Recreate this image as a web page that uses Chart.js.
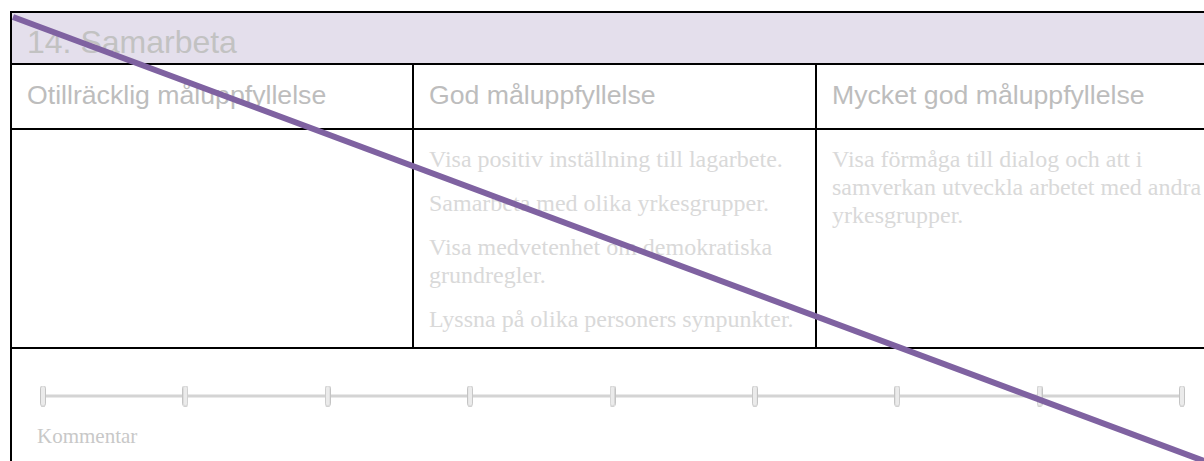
<!DOCTYPE html>
<html lang="sv">
<head>
<meta charset="utf-8">
<title>14. Samarbeta</title>
<script src="https://cdn.jsdelivr.net/npm/chart.js@4/dist/chart.umd.min.js"></script>
<style>
  html, body { margin: 0; padding: 0; width: 1204px; height: 461px; overflow: hidden; background: #fff; }
  .abs { position: absolute; }
  .line { position: absolute; background: #000; }
  .title { font: 32px/32px "Liberation Sans", Arial, sans-serif; color: #c2c2c2; white-space: nowrap; }
  .head { font: 26.67px/26.67px "Liberation Sans", Arial, sans-serif; color: #bdbdbd; white-space: nowrap; }
  .body { font: 24px/28px "Liberation Serif", "Times New Roman", serif; color: #d9d9d9; white-space: nowrap; }
  .body p { margin: 0 0 16px 0; }
  .note { font: 21px/21px "Liberation Serif", "Times New Roman", serif; color: #c8c8c8; white-space: nowrap; }
</style>
</head>
<body>
<!-- form frame -->
<div class="abs" style="left:12px;top:13px;width:1192px;height:50px;background:#e4dfec;"></div>
<div class="line" style="left:10px;top:11px;width:1194px;height:2px;"></div>
<div class="line" style="left:10px;top:11px;width:2px;height:450px;"></div>
<div class="line" style="left:10px;top:63px;width:1194px;height:2px;"></div>
<div class="line" style="left:10px;top:128px;width:1194px;height:2px;"></div>
<div class="line" style="left:10px;top:347px;width:1194px;height:2px;"></div>
<div class="line" style="left:412px;top:63px;width:2px;height:286px;"></div>
<div class="line" style="left:815px;top:63px;width:2px;height:286px;"></div>

<div class="abs title" style="left:27px;top:26px;">14. Samarbeta</div>
<div class="abs head" style="left:27px;top:82px;">Otillräcklig måluppfyllelse</div>
<div class="abs head" style="left:429px;top:82px;">God måluppfyllelse</div>
<div class="abs head" style="left:832px;top:82px;">Mycket god måluppfyllelse</div>

<div class="abs body" style="left:429px;top:145px;">
  <p>Visa positiv inställning till lagarbete.</p>
  <p>Samarbeta med olika yrkesgrupper.</p>
  <p>Visa medvetenhet om demokratiska<br>grundregler.</p>
  <p>Lyssna på olika personers synpunkter.</p>
</div>
<div class="abs body" style="left:832px;top:145px;">
  <p>Visa förmåga till dialog och att i<br>samverkan utveckla arbetet med andra<br>yrkesgrupper.</p>
</div>

<canvas id="slider" class="abs" width="1165" height="32" style="left:30px;top:380px;"></canvas>
<div class="abs note" style="left:37px;top:426px;">Kommentar</div>

<canvas id="strike" class="abs" width="1204" height="461" style="left:0;top:0;pointer-events:none;"></canvas>

<script>
// slider steps (9 positions on the assessment scale)
const steps = [0, 1, 2, 3, 4, 5, 6, 7, 8];
const stepLevel = [0, 0, 0, 0, 0, 0, 0, 0, 0];

// diagonal strike-through across the form (x, y in 0..1 of the plot area)
const strikeX = [0, 1];
const strikeY = [1, 0];

// small rounded handle used as the slider tick mark
function makeHandle() {
  const c = document.createElement('canvas');
  c.width = 6; c.height = 21;
  const g = c.getContext('2d');
  const w = 5, h = 20, r = 2, x = 0.5, y = 0.5;
  g.beginPath();
  g.moveTo(x + r, y);
  g.lineTo(x + w - r, y);
  g.arcTo(x + w, y, x + w, y + r, r);
  g.lineTo(x + w, y + h - r);
  g.arcTo(x + w, y + h, x + w - r, y + h, r);
  g.lineTo(x + r, y + h);
  g.arcTo(x, y + h, x, y + h - r, r);
  g.lineTo(x, y + r);
  g.arcTo(x, y, x + r, y, r);
  g.closePath();
  g.fillStyle = '#ebebeb';
  g.fill();
  g.strokeStyle = '#c4c4c4';
  g.lineWidth = 1;
  g.stroke();
  return c;
}

const hidden = { display: false };

new Chart(document.getElementById('slider'), {
  type: 'line',
  data: {
    labels: steps,
    datasets: [{
      data: steps.map((s, i) => ({ x: s, y: stepLevel[i] })),
      borderColor: '#d4d4d4',
      borderWidth: 3,
      pointStyle: makeHandle(),
      clip: false
    }]
  },
  options: {
    responsive: false,
    animation: false,
    devicePixelRatio: 1,
    layout: { padding: { left: 13, right: 13, top: 0, bottom: 0 } },
    plugins: { legend: hidden, tooltip: { enabled: false } },
    scales: {
      x: { type: 'linear', min: 0, max: 8, display: false },
      y: { min: -1, max: 1, display: false }
    }
  }
});

new Chart(document.getElementById('strike'), {
  type: 'line',
  data: {
    datasets: [{
      data: strikeX.map((x, i) => ({ x, y: strikeY[i] })),
      borderColor: '#7f62a1',
      borderWidth: 6,
      borderCapStyle: 'butt',
      pointRadius: 0,
      clip: false
    }]
  },
  options: {
    responsive: false,
    animation: false,
    devicePixelRatio: 1,
    events: [],
    layout: { padding: { left: 13, top: 17, right: 0, bottom: 0 } },
    plugins: { legend: hidden, tooltip: { enabled: false } },
    scales: {
      x: { type: 'linear', min: 0, max: 1, display: false },
      y: { min: 0, max: 1, display: false }
    }
  }
});
</script>
</body>
</html>
